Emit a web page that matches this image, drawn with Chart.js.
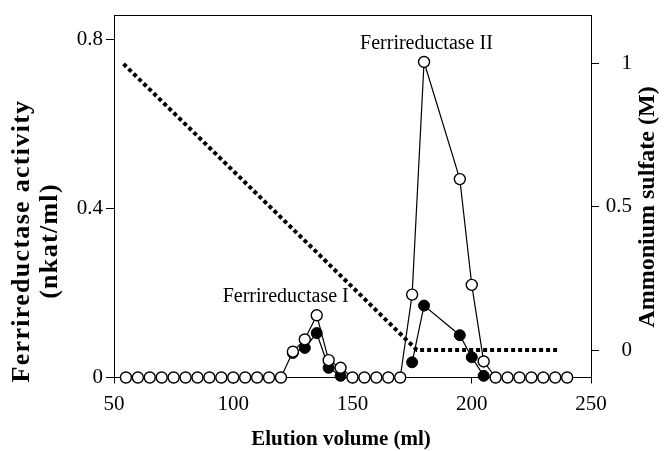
<!DOCTYPE html>
<html><head><meta charset="utf-8">
<script src="https://cdn.jsdelivr.net/npm/chart.js@4/dist/chart.umd.min.js"></script>
<style>html,body{margin:0;padding:0;background:#fff;}</style>
</head><body>
<canvas id="c" width="664" height="451"></canvas>
<script>
// ---- data ----
const openVolume = [55,60,65,70,75,80,85,90,95,100,105,110,115,120,125,130,135,140,145,150,155,160,165,170,175,180,195,200,205,210,215,220,225,230,235,240];
const openActivity = [0,0,0,0,0,0,0,0,0,0,0,0,0,0,0.061,0.09,0.147,0.041,0.023,0,0,0,0,0,0.196,0.746,0.469,0.219,0.038,0,0,0,0,0,0,0];
const filledVolume = [125,130,135,140,145,160,175,180,195,200,205];
const filledActivity = [0.058,0.07,0.105,0.023,0.004,null,0.036,0.17,0.1,0.048,0.004];
const saltVolume = [54,177,237];
const saltConc = [1.0,0,0];
const xTicks = [50,100,150,200,250];
const leftTicks = [0,0.4,0.8];
const rightTicks = [0,0.5,1];
const peakLabels = [
  {text:'Ferrireductase I', x:122, y:0.19},
  {text:'Ferrireductase II', x:181, y:0.79}
];

const pts = (xs, ys) => xs.map((x,i)=>({x:x, y:ys[i]}));
const SERIF = '"Liberation Serif", "Times New Roman", serif';

const textPlugin = {
  id:'texts',
  afterDraw(chart){
    const ctx = chart.ctx;
    const xs = chart.scales.x, ys = chart.scales.y;
    ctx.save();
    ctx.fillStyle = '#000';
    ctx.textAlign = 'center';
    ctx.textBaseline = 'middle';
    // x title
    ctx.font = 'bold 21px ' + SERIF;
    ctx.fillText('Elution volume (ml)', 341, 440);
    // left title
    ctx.save();
    ctx.translate(22, 241);
    ctx.rotate(-Math.PI/2);
    ctx.font = 'bold 26px ' + SERIF;
    try { ctx.letterSpacing = '1.3px'; } catch(e) {}
    ctx.fillText('Ferrireductase activity', 0, 0);
    ctx.fillText('(nkat/ml)', 0, 28);
    ctx.restore();
    // right title
    ctx.save();
    ctx.translate(648, 207);
    ctx.rotate(-Math.PI/2);
    ctx.font = 'bold 24px ' + SERIF;
    ctx.fillText('Ammonium sulfate (M)', 0, 0);
    ctx.restore();
    // peak labels
    ctx.font = '20px ' + SERIF;
    peakLabels.forEach(p => ctx.fillText(p.text, xs.getPixelForValue(p.x), ys.getPixelForValue(p.y)));
    ctx.restore();
  }
};

const noPad = s => { s.paddingTop = 0; s.paddingBottom = 0; s.paddingLeft = 0; s.paddingRight = 0; };
const tickFont = {family: SERIF, size: 21};
new Chart(document.getElementById('c'), {
  type:'line',
  data:{datasets:[
    {data: pts(openVolume, openActivity), yAxisID:'y', borderColor:'#000', borderWidth:1.2,
     pointRadius:5.5, pointBorderWidth:1.4, pointBackgroundColor:'#fff', pointBorderColor:'#000', tension:0, clip:false},
    {data: pts(filledVolume, filledActivity), yAxisID:'y', borderColor:'#000', borderWidth:1.2,
     pointRadius:5.5, pointBorderWidth:1, pointBackgroundColor:'#000', pointBorderColor:'#000', tension:0, clip:false, spanGaps:false},
    {data: pts(saltVolume, saltConc), yAxisID:'y2', borderColor:'#000', borderWidth:4, borderDash:[4,3],
     pointRadius:0, tension:0, clip:false}
  ]},
  options:{
    responsive:false, animation:false, devicePixelRatio:1,
    layout:{padding:{top:15,left:0,right:32,bottom:0}},
    plugins:{legend:{display:false}, tooltip:{enabled:false}},
    scales:{
      x:{type:'linear', position:'bottom', min:50, max:250,
         afterBuildTicks: s => { s.ticks = xTicks.map(v=>({value:v})); },
         afterFit: s => { s.height = 73.5; noPad(s); },
         ticks:{font:tickFont, color:'#000', padding:8, maxRotation:0, autoSkip:false},
         grid:{drawOnChartArea:false, tickLength:6, color:'#000', lineWidth:1},
         border:{color:'#000', width:1}},
      xTop:{type:'linear', position:'top', min:50, max:250,
         afterFit: s => { s.height = 0; noPad(s); },
         ticks:{display:false},
         grid:{drawOnChartArea:false, drawTicks:false, color:'#000'},
         border:{color:'#000', width:1}},
      y:{type:'linear', position:'left', min:0, max:0.857,
         afterBuildTicks: s => { s.ticks = leftTicks.map(v=>({value:v})); },
         afterFit: s => { s.width = 114; noPad(s); },
         ticks:{font:tickFont, color:'#000', padding:3, callback: v => String(v)},
         grid:{drawOnChartArea:false, tickLength:8, color:'#000', lineWidth:1},
         border:{color:'#000', width:1}},
      y2:{type:'linear', position:'right', min:-0.096, max:1.171,
         afterBuildTicks: s => { s.ticks = rightTicks.map(v=>({value:v})); },
         afterFit: s => { s.width = 41; noPad(s); },
         ticks:{font:tickFont, color:'#000', padding:8, crossAlign:'far', callback: v => String(v)},
         grid:{drawOnChartArea:false, tickLength:8, color:'#000', lineWidth:1},
         border:{color:'#000', width:1}}
    }
  },
  plugins:[textPlugin]
});
</script>
</body></html>
